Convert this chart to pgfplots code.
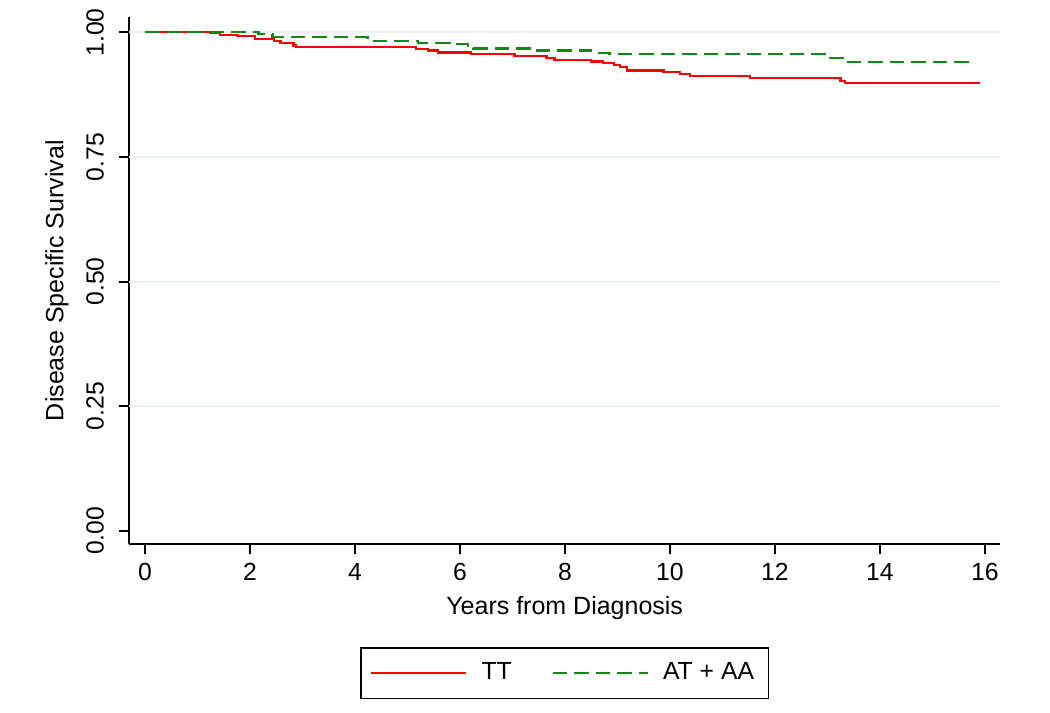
\documentclass[border=0pt]{standalone}
\usepackage{pgfplots}
\pgfplotsset{compat=1.18}
\usepackage{fontspec}
\setmainfont{Liberation Sans}
\definecolor{gridc}{RGB}{234,242,243}
\definecolor{sred}{RGB}{255,0,0}
\definecolor{sgreen}{RGB}{20,135,20}
\begin{document}
\begin{tikzpicture}
\path[use as bounding box] (0,0) rectangle (420pt,284.8pt);
\begin{axis}[
  at={(51.72pt,67.08pt)}, anchor=south west,
  scale only axis, width=348.3pt, height=210.9pt,
  xmin=-0.30, xmax=16.29, ymin=-0.0273, ymax=1.0307,
  axis x line=bottom, axis y line=left,
  axis line style={-, line width=0.8pt, black},
  tick align=outside, major tick length=4pt,
  tick style={line width=0.8pt, black},
  xtick={0,2,...,16}, ytick={0,0.25,0.5,0.75,1},
  extra y ticks={0.25,0.5,0.75,1},
  extra y tick style={grid=major, major tick length=0pt, yticklabels={}},
  grid style={gridc, line width=0.8pt},
  yticklabel style={rotate=90, anchor=south, yshift=2.6pt},
  /pgf/number format/assume math mode=true,
  yticklabel={\pgfmathprintnumber[fixed, fixed zerofill, precision=2]{\tick}},
  ticklabel style={font=\fontsize{9.9}{11}\selectfont},
  xlabel={Years from Diagnosis},
  ylabel={Disease Specific Survival},
  label style={font=\fontsize{9.9}{11}\selectfont},
  every axis x label/.style={at={(axis description cs:0.5,0)}, anchor=center, yshift=-25.5pt},
  every axis y label/.style={at={([xshift=-29pt]axis description cs:0,0.5)}, anchor=center, rotate=90},
  legend style={at={(axis description cs:0.5,-0.195)}, anchor=north, draw=black, line width=0.6pt,
    font=\fontsize{9.9}{11}\selectfont, inner xsep=3.8pt, inner ysep=4pt,
    /tikz/every odd column/.append style={column sep=3.6pt},
    /tikz/every even column/.append style={column sep=14pt}},
  legend columns=2,
  legend image code/.code={\draw[#1] (0pt,0pt) -- (38pt,0pt);},
]
\addplot[const plot, sred, line width=0.9pt] coordinates {
(0,1) (1.24,0.9986) (1.43,0.9954) (1.76,0.9926) (2.1,0.9873) (2.45,0.9825) (2.58,0.9785)
(2.83,0.9738) (2.87,0.9704) (5.16,0.9664) (5.39,0.9638) (5.58,0.9598) (6.21,0.9563)
(7.04,0.9531) (7.65,0.9491) (7.8,0.9451) (8.5,0.9416) (8.73,0.9382) (8.93,0.9350)
(9.05,0.9310) (9.18,0.9235) (9.88,0.9201) (10.19,0.9169) (10.38,0.9129) (11.53,0.9089)
(13.25,0.9020) (13.33,0.8980) (15.9,0.8980)};
\addlegendentry{TT}
\addplot[const plot, sgreen, line width=0.9pt, dash pattern=on 5.8pt off 2.8pt] coordinates {
(0,1) (2.16,0.9960) (2.43,0.9905) (4.24,0.9820) (5.2,0.9785) (5.8,0.9759) (6.15,0.9725)
(6.25,0.9678) (7.42,0.9638) (8.5,0.9592) (8.85,0.9563) (13.0,0.9491) (13.35,0.9410) (15.81,0.9410)};
\addlegendentry{AT + AA}
\end{axis}
\end{tikzpicture}
\end{document}
